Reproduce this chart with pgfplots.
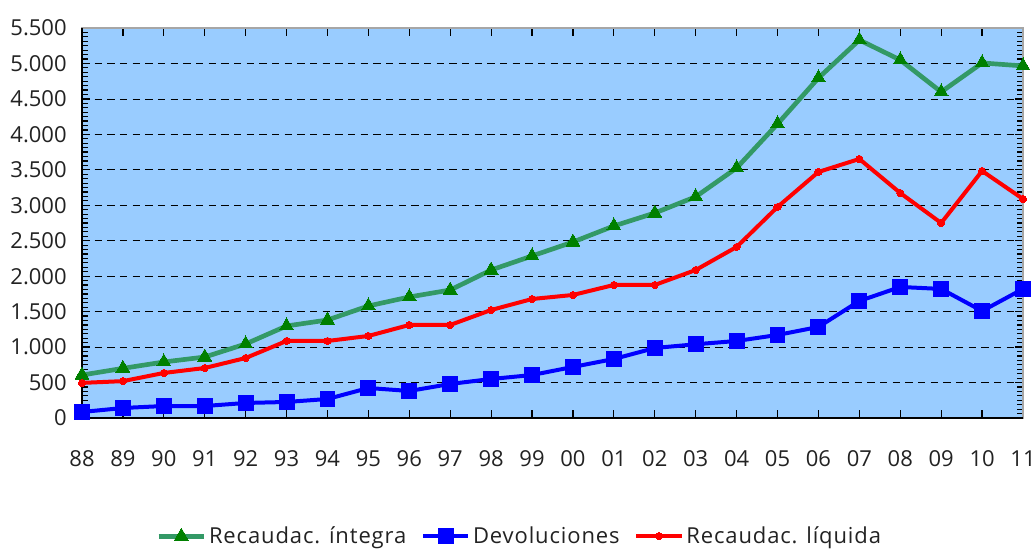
\documentclass[border=0pt]{standalone}
\usepackage{fontspec}
\setmainfont{Open Sans}
\usepackage{pgfplots}
\pgfplotsset{compat=1.18}
\definecolor{bgblue}{HTML}{99CCFF}
\definecolor{lgreen}{HTML}{339966}
\definecolor{mgreen}{HTML}{008000}
\definecolor{txt}{HTML}{222222}
\begin{document}
\begin{tikzpicture}
\useasboundingbox (-61.5pt,-98.25pt) rectangle (714pt,313.5pt);
\begin{axis}[
  at={(0,0)}, anchor=south west,
  scale only axis, width=705.75pt, height=292.5pt,
  xmin=0, xmax=23, ymin=0, ymax=5500,
  axis background/.style={fill=bgblue},
  axis line style={draw=gray!70, line width=1pt},
  xtick={0,...,23},
  xticklabels={88,89,90,91,92,93,94,95,96,97,98,99,00,01,02,03,04,05,06,07,08,09,10,11},
  ytick={0,500,...,5500},
  yticklabels={0,500,1.000,1.500,2.000,2.500,3.000,3.500,4.000,4.500,5.000,5.500},
  minor y tick num=7,
  tick align=inside,
  major tick length=6pt, minor tick length=4.5pt,
  tick style={black, line width=0.9pt},
  ymajorgrids, major grid style={black, line width=0.6pt, dash pattern=on 5.5pt off 4pt},
  font=\fontsize{16.5}{18}\selectfont,
  tick label style={text=txt},
  xticklabel style={yshift=-21pt},
  yticklabel style={xshift=-8pt},
  /pgf/number format/assume math mode=true,
  legend style={at={(0.4655,-0.303)}, anchor=center, draw=none, fill=none,
    legend columns=3, font=\fontsize{16.5}{18}\addfontfeatures{LetterSpace=4}\selectfont, text=txt,
    /tikz/every even column/.append style={column sep=9pt}},
  legend image code/.code={
    \draw[#1, mark=none] (0pt,0pt) -- (34pt,0pt);
    \draw[#1, draw=none] plot coordinates {(17pt,0pt)};
  },
  clip=false,
]
\addplot[lgreen, line width=3.5pt, mark=triangle*, mark size=6pt,
  mark options={fill=mgreen, draw=mgreen, line width=0pt}] coordinates {
(0,606)(1,700)(2,790)(3,860)(4,1044)(5,1298)(6,1382)(7,1580)(8,1707)(9,1805)
(10,2087)(11,2285)(12,2482)(13,2708)(14,2891)(15,3120)(16,3526)(17,4147)
(18,4795)(19,5331)(20,5049)(21,4598)(22,5007)(23,4965)};
\addlegendentry{Recaudac. íntegra}
\addplot[blue, line width=3pt, mark=square*, mark size=5.6pt,
  mark options={fill=blue, draw=blue, line width=0pt}] coordinates {
(0,85)(1,141)(2,169)(3,169)(4,212)(5,226)(6,268)(7,423)(8,381)(9,480)
(10,550)(11,606)(12,720)(13,832)(14,987)(15,1040)(16,1086)(17,1171)
(18,1284)(19,1650)(20,1848)(21,1820)(22,1509)(23,1820)};
\addlegendentry{Devoluciones}
\addplot[red, line width=3pt, mark=*, mark size=2.7pt,
  mark options={fill=red, draw=red, line width=0pt}] coordinates {
(0,495)(1,520)(2,635)(3,705)(4,846)(5,1086)(6,1086)(7,1157)(8,1312)(9,1312)
(10,1523)(11,1678)(12,1735)(13,1876)(14,1876)(15,2087)(16,2412)(17,2976)
(18,3470)(19,3653)(20,3173)(21,2750)(22,3484)(23,3089)};
\addlegendentry{Recaudac. líquida}
\draw[black, line width=1.6pt] (rel axis cs:0,1) -- (rel axis cs:0,0) -- (rel axis cs:1,0);
\end{axis}
\end{tikzpicture}
\end{document}
